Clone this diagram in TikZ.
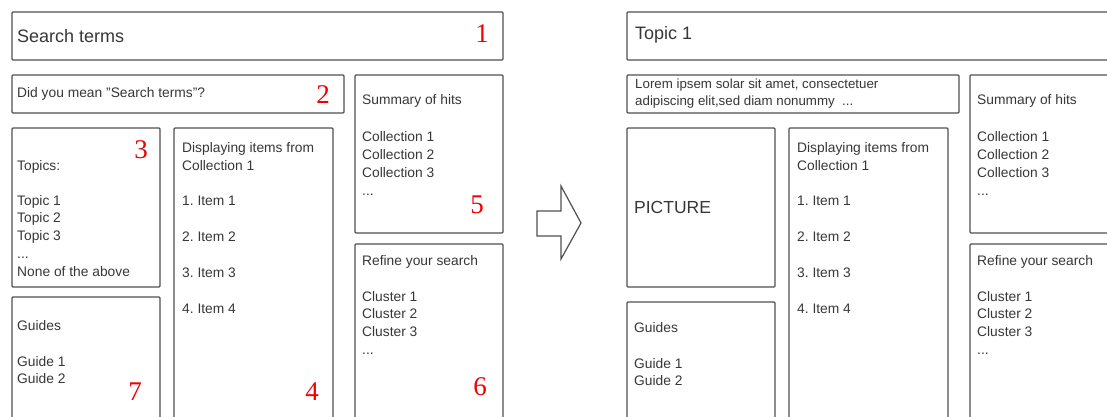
\documentclass[tikz,border=0pt]{standalone}
\usepackage{fontspec}
\setmainfont{Liberation Sans}
\newfontfamily\numfont{Liberation Serif}
\definecolor{edge}{RGB}{80,80,80}
\definecolor{txt}{RGB}{55,55,55}
\definecolor{numred}{RGB}{240,0,0}
\begin{document}
\frenchspacing
\begin{tikzpicture}[x=1pt,y=-1pt,
  box/.style={draw=edge, line width=1.2pt, rounded corners=1pt},
  lbl/.style={anchor=base west, inner sep=0pt, font=\fontsize{13.8}{17}\selectfont, text=txt},
  small/.style={lbl, font=\fontsize{13.3}{16}\selectfont},
  big/.style={lbl, font=\fontsize{18}{21}\selectfont},
  pic/.style={lbl, font=\fontsize{17.5}{20}\selectfont},
  numlbl/.style={anchor=base, inner sep=0pt, font=\numfont\fontsize{27}{30}\selectfont, text=numred},
  arrowshape/.style={draw=edge, line width=1.2pt, line join=miter}]
\useasboundingbox (0,0) rectangle (1107,417);
\clip (0,0) rectangle (1107,417);
\fill[white] (0,0) rectangle (1107,417);

% ---------- left layout ----------
\draw[box] (12,12) rectangle (503,60);
\draw[box] (12,75) rectangle (344,113);
\draw[box] (355,75) rectangle (503,233);
\draw[box] (12,128) rectangle (160,287);
\draw[box] (174,128) rectangle (333,440);
\draw[box] (12,297) rectangle (160,440);
\draw[box] (355,244) rectangle (503,440);

\node[big] (lsearch) at (17,43) {Search terms};
\node[lbl] (lmean) at (17,98) {Did you mean "Search terms"?};

\node[lbl] (lsum) at (362,105) {Summary of hits};
\node[lbl] (lcol1) at (362,141) {Collection 1};
\node[lbl] (lcol2) at (362,159) {Collection 2};
\node[lbl] (lcol3) at (362,177) {Collection 3};
\node[lbl] (lcold) at (362,195) {...};

\node[lbl] (ltopics) at (17,170) {Topics:};
\node[lbl] (lt1) at (17,205) {Topic 1};
\node[lbl] (lt2) at (17,222) {Topic 2};
\node[lbl] (lt3) at (17,240) {Topic 3};
\node[lbl] (ltd) at (17,258) {...};
\node[lbl] (lnone) at (17,276) {None of the above};

\node[lbl] (ldisp1) at (182,152) {Displaying items from};
\node[lbl] (ldisp2) at (182,170) {Collection 1};
\node[lbl] (li1) at (182,205) {1. Item 1};
\node[lbl] (li2) at (182,241) {2. Item 2};
\node[lbl] (li3) at (182,277) {3. Item 3};
\node[lbl] (li4) at (182,313) {4. Item 4};

\node[lbl] (lref) at (362,265) {Refine your search};
\node[lbl] (lcl1) at (362,301) {Cluster 1};
\node[lbl] (lcl2) at (362,318) {Cluster 2};
\node[lbl] (lcl3) at (362,336) {Cluster 3};
\node[lbl] (lcld) at (362,354) {...};

\node[lbl] (lguides) at (17,330) {Guides};
\node[lbl] (lg1) at (17,366) {Guide 1};
\node[lbl] (lg2) at (17,383) {Guide 2};

\node[numlbl] (n1) at (482,43) {1};
\node[numlbl] (n2) at (323,103) {2};
\node[numlbl] (n3) at (141,158) {3};
\node[numlbl] (n5) at (477,213) {5};
\node[numlbl] (n4) at (312,400) {4};
\node[numlbl] (n6) at (480,395) {6};
\node[numlbl] (n7) at (135,400) {7};

% ---------- arrow ----------
\draw[arrowshape] (537,211) -- (561,211) -- (561,186) -- (581,223) -- (561,259) -- (561,236) -- (537,236) -- cycle;

% ---------- right layout ----------
\draw[box] (627,12) rectangle (1125,60);
\draw[box] (627,75) rectangle (959,113);
\draw[box] (970,75) rectangle (1125,233);
\draw[box] (627,128) rectangle (775,287);
\draw[box] (789,128) rectangle (948,440);
\draw[box] (627,302) rectangle (775,440);
\draw[box] (970,244) rectangle (1125,440);

\node[big] (rtopic) at (635,40) {Topic 1};
\node[small] (rlor1) at (635,89) {Lorem ipsem solar sit amet, consectetuer};
\node[small] (rlor2) at (635,106) {adipiscing elit,sed diam nonummy\ \ ...};

\node[lbl] (rsum) at (977,105) {Summary of hits};
\node[lbl] (rcol1) at (977,141) {Collection 1};
\node[lbl] (rcol2) at (977,159) {Collection 2};
\node[lbl] (rcol3) at (977,177) {Collection 3};
\node[lbl] (rcold) at (977,195) {...};

\node[pic] (rpic) at (634,213) {PICTURE};

\node[lbl] (rdisp1) at (797,152) {Displaying items from};
\node[lbl] (rdisp2) at (797,170) {Collection 1};
\node[lbl] (ri1) at (797,205) {1. Item 1};
\node[lbl] (ri2) at (797,241) {2. Item 2};
\node[lbl] (ri3) at (797,277) {3. Item 3};
\node[lbl] (ri4) at (797,313) {4. Item 4};

\node[lbl] (rref) at (977,265) {Refine your search};
\node[lbl] (rcl1) at (977,301) {Cluster 1};
\node[lbl] (rcl2) at (977,318) {Cluster 2};
\node[lbl] (rcl3) at (977,336) {Cluster 3};
\node[lbl] (rcld) at (977,354) {...};

\node[lbl] (rguides) at (634,332) {Guides};
\node[lbl] (rg1) at (634,368) {Guide 1};
\node[lbl] (rg2) at (634,385) {Guide 2};
\end{tikzpicture}
\end{document}
